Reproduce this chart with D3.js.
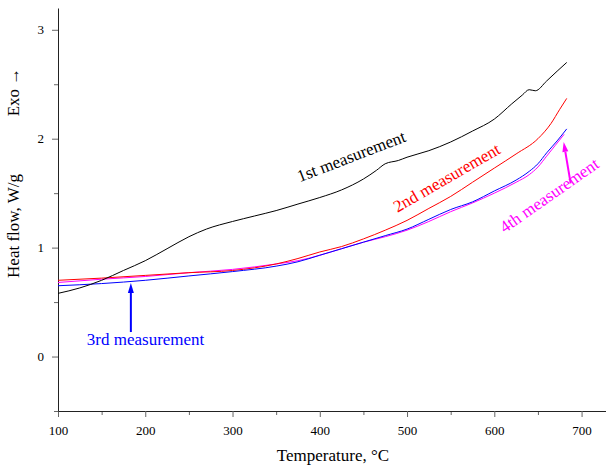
<!DOCTYPE html>
<html>
<head>
<meta charset="utf-8">
<script src="https://cdn.jsdelivr.net/npm/d3@7"></script>
<style>
  body { margin: 0; background: #fff; }
  text { font-family: "Liberation Serif", "Times New Roman", serif; }
</style>
</head>
<body>
<div id="viz"></div>
<script>
const width = 606;
const height = 465;
const margin = { top: 8, right: 0, bottom: 54, left: 58 };

// temperatures (°C) and heat flow (W/g)
const temp1 = [100, 125, 150, 175, 200, 225, 250, 270, 300, 325, 350, 375, 400, 425, 450, 465, 475, 490, 500, 525, 550, 575, 600, 620, 632, 640, 647, 660, 672, 683];
const flow1 = [0.58, 0.63, 0.70, 0.79, 0.88, 0.99, 1.10, 1.17, 1.24, 1.29, 1.34, 1.40, 1.46, 1.53, 1.63, 1.71, 1.77, 1.80, 1.83, 1.89, 1.97, 2.07, 2.18, 2.32, 2.40, 2.45, 2.44, 2.53, 2.62, 2.70];

const temp2 = [100, 150, 200, 250, 300, 350, 375, 400, 425, 450, 475, 500, 525, 550, 575, 600, 625, 650, 665, 675, 683];
const flow2 = [0.70, 0.72, 0.745, 0.77, 0.79, 0.85, 0.90, 0.96, 1.01, 1.08, 1.16, 1.25, 1.36, 1.47, 1.60, 1.73, 1.86, 2.00, 2.14, 2.27, 2.37];

const temp3 = [100, 150, 200, 250, 300, 350, 375, 400, 425, 450, 475, 500, 525, 550, 575, 600, 625, 640, 650, 660, 672, 683];
const flow3 = [0.65, 0.67, 0.70, 0.74, 0.78, 0.83, 0.87, 0.93, 0.99, 1.05, 1.11, 1.17, 1.26, 1.35, 1.42, 1.52, 1.62, 1.70, 1.77, 1.87, 1.98, 2.09];

const temp4 = [100, 150, 200, 250, 300, 350, 375, 400, 425, 450, 475, 500, 525, 550, 575, 600, 625, 640, 650, 660, 670, 680];
const flow4 = [0.68, 0.71, 0.735, 0.77, 0.80, 0.85, 0.88, 0.93, 0.99, 1.05, 1.10, 1.16, 1.24, 1.33, 1.41, 1.50, 1.60, 1.67, 1.74, 1.84, 1.94, 2.04];

const xTicks = [100, 200, 300, 400, 500, 600, 700];
const yTicks = [0, 1, 2, 3];

// annotation anchors in data units
const labels = [
  { text: '1st measurement', t: 377, v: 1.60, angle: -21, color: '#000000' },
  { text: '2nd measurement', t: 489, v: 1.32, angle: -30, color: '#ff0000' },
  { text: '4th measurement', t: 612, v: 1.13, angle: -35, color: '#ff00ff' },
  { text: '3rd measurement', t: 133, v: 0.105, angle: 0, color: '#0000ff' }
];
const arrows = [
  { t0: 183.5, v0: 0.225, t1: 183.5, v1: 0.675, color: '#0000ff' },
  { t0: 687.5, v0: 1.59, t1: 679.5, v1: 1.97, color: '#ff00ff' }
];

const svg = d3.select('#viz')
  .append('svg')
  .attr('width', width)
  .attr('height', height);

const xScale = d3.scaleLinear()
  .domain([100, 728])
  .range([margin.left, width - margin.right]);
const yScale = d3.scaleLinear()
  .domain([-0.5, 3.2])
  .range([height - margin.bottom, margin.top]);

// minor ticks
const xMinor = d3.range(150, 728, 100);
const yMinor = d3.range(-0.5, 3.2, 1);

svg.append('g')
  .attr('transform', `translate(0, ${height - margin.bottom})`)
  .call(d3.axisBottom(xScale).tickValues(xMinor).tickSize(4).tickFormat(''))
  .call(g => g.select('.domain').remove());
const xMajor = svg.append('g')
  .attr('transform', `translate(0, ${height - margin.bottom})`)
  .call(d3.axisBottom(xScale).tickValues(xTicks).tickSize(6).tickSizeOuter(0).tickPadding(6));

svg.append('g')
  .attr('transform', `translate(${margin.left}, 0)`)
  .call(d3.axisLeft(yScale).tickValues(yMinor).tickSize(4).tickFormat(''))
  .call(g => g.select('.domain').remove());
svg.append('g')
  .attr('transform', `translate(${margin.left}, 0)`)
  .call(d3.axisLeft(yScale).tickValues(yTicks).tickFormat(d3.format('d')).tickSize(6).tickSizeOuter(0).tickPadding(8));

svg.selectAll('.tick line').attr('stroke', '#666');
svg.selectAll('.domain').attr('stroke', '#222');
svg.selectAll('.tick text')
  .attr('font-size', 13)
  .attr('fill', '#000');
xMajor.selectAll('.tick text').attr('dy', '0.95em');

// axis titles
svg.append('text')
  .attr('x', 333)
  .attr('y', 461)
  .attr('text-anchor', 'middle')
  .attr('font-size', 17)
  .text('Temperature, °C');
svg.append('text')
  .attr('transform', 'translate(19, 226) rotate(-90)')
  .attr('text-anchor', 'middle')
  .attr('font-size', 17)
  .text('Heat flow, W/g');
svg.append('text')
  .attr('transform', 'translate(19, 92) rotate(-90)')
  .attr('text-anchor', 'middle')
  .attr('font-size', 17)
  .text('Exo →');

// curves
const line = d3.line()
  .x(d => xScale(d[0]))
  .y(d => yScale(d[1]))
  .curve(d3.curveMonotoneX);

const series = [
  { t: temp4, v: flow4, color: '#ff00ff' },
  { t: temp2, v: flow2, color: '#ff0000' },
  { t: temp3, v: flow3, color: '#0000ff' },
  { t: temp1, v: flow1, color: '#000000' }
];
series.forEach(s => {
  svg.append('path')
    .datum(d3.zip(s.t, s.v))
    .attr('fill', 'none')
    .attr('stroke', s.color)
    .attr('stroke-width', 1)
    .attr('d', line);
});

// arrows
arrows.forEach(a => {
  const x0 = xScale(a.t0), y0 = yScale(a.v0);
  const x1 = xScale(a.t1), y1 = yScale(a.v1);
  const ang = Math.atan2(y1 - y0, x1 - x0);
  const len = 10, half = 3;
  const bx = x1 - len * Math.cos(ang), by = y1 - len * Math.sin(ang);
  svg.append('line')
    .attr('x1', x0).attr('y1', y0)
    .attr('x2', bx).attr('y2', by)
    .attr('stroke', a.color)
    .attr('stroke-width', 2);
  svg.append('path')
    .attr('d', `M${x1},${y1}L${bx + half * Math.sin(ang)},${by - half * Math.cos(ang)}L${bx - half * Math.sin(ang)},${by + half * Math.cos(ang)}Z`)
    .attr('fill', a.color);
});

// curve labels
labels.forEach(l => {
  svg.append('text')
    .attr('transform', `translate(${xScale(l.t)}, ${yScale(l.v)}) rotate(${l.angle})`)
    .attr('font-size', 17)
    .attr('fill', l.color)
    .text(l.text);
});
</script>
</body>
</html>
